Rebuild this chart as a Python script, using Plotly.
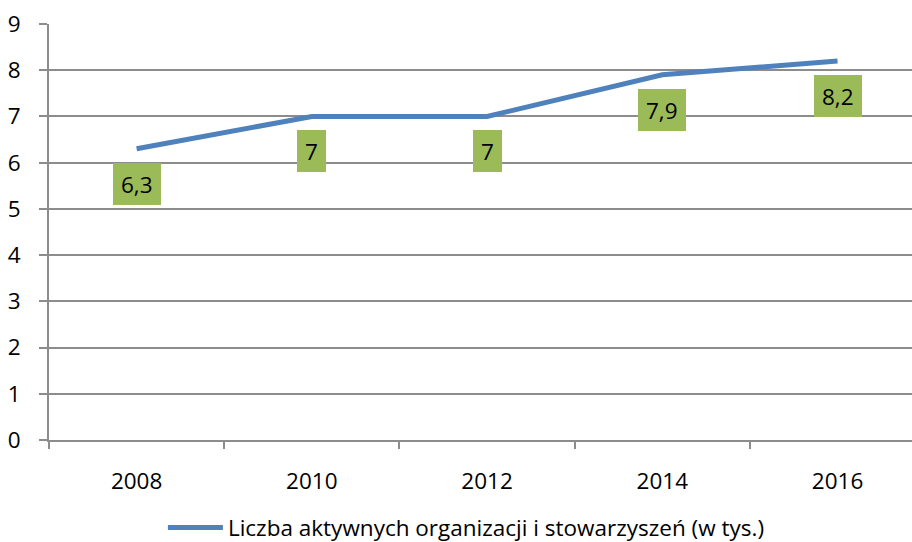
import plotly.graph_objects as go

years = ["2008", "2010", "2012", "2014", "2016"]
values = [6.3, 7.0, 7.0, 7.9, 8.2]
labels = ["6,3", "7", "7", "7,9", "8,2"]
series_name = "Liczba aktywnych organizacji i stowarzyszeń (w tys.)"
y_ticks = list(range(0, 10))

idx = list(range(len(years)))
FONT = "Open Sans"
FS = 22.5
GRID = "#8C8C8C"

fig = go.Figure()
fig.add_trace(go.Scatter(
    x=idx, y=values, mode="lines", name=series_name,
    line=dict(color="#4F81BD", width=5), hoverinfo="skip",
))

for i, v, t in zip(idx, values, labels):
    fig.add_annotation(
        x=i, y=v, text=t, showarrow=False, xref="x", yref="y",
        yanchor="top", xanchor="center", yshift=-14,
        bgcolor="#9BBB59", borderpad=8, borderwidth=0, height=26,
        font=dict(family=FONT, size=FS, color="#000000"),
    )

fig.update_layout(
    width=912, height=542,
    margin=dict(l=49, r=0, t=24, b=102, autoexpand=False),
    paper_bgcolor="white", plot_bgcolor="white",
    font=dict(family=FONT, size=FS, color="#000000"),
    showlegend=True,
    legend=dict(orientation="h", x=0.132, xanchor="left", y=-0.211, yanchor="middle",
                font=dict(family=FONT, size=FS), itemwidth=55),
)
fig.update_xaxes(
    range=[-0.5, 4.425], tickmode="array", tickvals=idx, ticktext=years,
    ticks="", showgrid=False, zeroline=False, automargin=False,
    showline=True, linecolor=GRID, linewidth=2,
    ticklabelstandoff=20,
    minor=dict(tickmode="array", tickvals=[-0.5, 0.5, 1.5, 2.5, 3.5],
               ticks="outside", ticklen=7, tickcolor=GRID, tickwidth=2, showgrid=False),
)
fig.update_yaxes(
    range=[0, 9], tickmode="array", tickvals=y_ticks, automargin=False,
    ticks="outside", ticklen=8, tickcolor=GRID, tickwidth=2,
    showgrid=True, gridcolor=GRID, gridwidth=2, zeroline=False,
    showline=True, linecolor=GRID, linewidth=2,
    ticklabelstandoff=14,
)

fig.write_html("out.html", config={"displayModeBar": False},
               post_script="document.body.style.margin='0';document.body.style.padding='0';")
